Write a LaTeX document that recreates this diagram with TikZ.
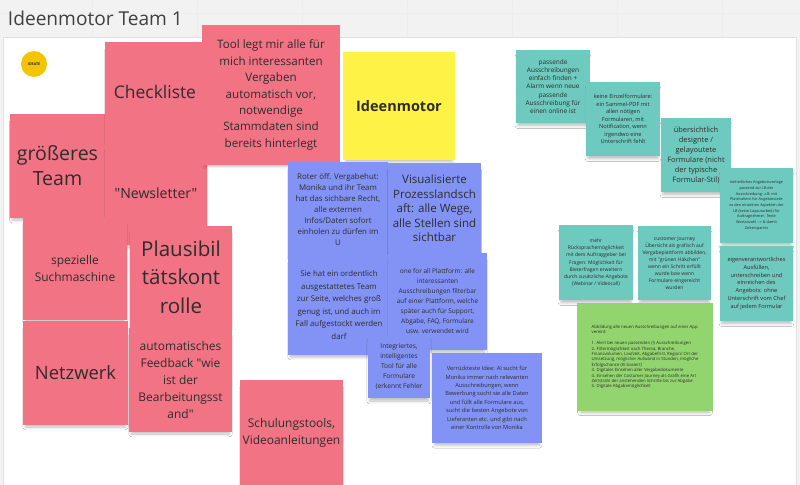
\documentclass[tikz,border=0pt]{standalone}
\usepackage{fontspec}
\setmainfont{Open Sans}[Ligatures=TeXOff]
\usetikzlibrary{shadows.blur}
\definecolor{notepink}{RGB}{242,115,132}
\definecolor{noteblue}{RGB}{130,147,245}
\definecolor{noteteal}{RGB}{110,201,190}
\definecolor{noteyellow}{RGB}{255,242,70}
\definecolor{notegreen}{RGB}{146,212,110}
\definecolor{ideategold}{RGB}{245,196,0}
\definecolor{notetext}{RGB}{45,45,45}
\definecolor{boardgray}{RGB}{242,242,242}
\tikzset{
  note/.style={inner sep=0pt, align=center, text=notetext,
    blur shadow={shadow xshift=0pt, shadow yshift=-3.5pt, shadow scale=0.95, shadow blur radius=2pt, shadow opacity=25}},
  wh/.style 2 args={minimum width=#1*0.025cm, minimum height=#2*0.025cm},
  fnt/.style 2 args={font=\fontsize{#1}{#2}\selectfont},
  pinknote/.style={note, fill=notepink},
  bluenote/.style={note, fill=noteblue},
  tealnote/.style={note, fill=noteteal},
  yellownote/.style={note, fill=noteyellow},
  greennote/.style={note, fill=notegreen}
}
\begin{document}
\begin{tikzpicture}[x=0.025cm, y=-0.025cm]
    \fill[boardgray] (0,0) rectangle (800,485);
    \useasboundingbox (0,0) rectangle (800,485);
    \foreach \gx in {92,197,302,407,512,617,722}
        \draw[black!7, line width=0.4pt] (\gx,0) -- (\gx,37);
    \draw[black!7, line width=0.4pt] (0,13) -- (800,13);
    \draw[black!12, fill=white] (3,37) rectangle (796,486);

    \node[anchor=base west, text=black!75, font=\fontsize{13.6pt}{16pt}\selectfont] (title) at (3,26) {Ideenmotor Team 1};
    \node[circle, fill=ideategold, minimum size=26*0.025cm, inner sep=0pt, font=\fontsize{2.6pt}{3pt}\selectfont\bfseries, text=notetext] (ideate) at (34,64) {IDEATE};

    % pink
    \node[pinknote, wh={95}{104}, fnt={13.9pt}{17.8pt}] (groesseres) at (57.5,166) {größeres\\Team};
    \node[pinknote, wh={100}{100}, fnt={12.4pt}{15pt}] (checkliste) at (155,92) {Checkliste};
    \node[pinknote, wh={102}{103}, fnt={10pt}{12pt}] (newsletter) at (156,193.5) {"Newsletter"};
    \node[pinknote, wh={104}{103}, fnt={8.5pt}{11.7pt}] (suchmaschine) at (75,268.5) {spezielle\\Suchmaschine};
    \node[pinknote, wh={102}{102}, fnt={14.6pt}{20.3pt}] (plausibil) at (181,277) {Plausibil\\tätskont\\rolle};
    \node[pinknote, wh={105}{104}, fnt={13.1pt}{16pt}] (netzwerk) at (75.5,373) {Netzwerk};
    \node[pinknote, wh={103}{104}, fnt={8.5pt}{12.1pt}] (feedback) at (180.5,380) {automatisches\\Feedback "wie\\ist der\\Bearbeitungsst\\and"};
    \node[pinknote, wh={138}{140}, fnt={8.25pt}{11.7pt}] (tool) at (271,95) {Tool legt mir alle für\\mich interessanten\\Vergaben\\automatisch vor,\\notwendige\\Stammdaten sind\\bereits hinterlegt};
    \node[pinknote, wh={103}{105}, fnt={8.5pt}{12pt}] (schulung) at (291.5,432.5) {Schulungstools,\\Videoanleitungen};

    % yellow
    \node[yellownote, wh={112}{108}, fnt={10.3pt}{12pt}] (ideenmotor) at (399,106) {\bfseries Ideenmotor};

    % blue
    \node[bluenote, wh={100}{95}, fnt={5.6pt}{7.8pt}] (vergabehut) at (338,209.5) {Roter öff. Vergabehut:\\Monika und ihr Team\\hat das sichbare Recht,\\alle externen\\Infos/Daten sofort\\einholen zu dürfen im\\U};
    \node[bluenote, wh={93}{91}, fnt={8.2pt}{10.3pt}] (prozess) at (434.5,208.5) {Visualisierte\\Prozesslandsch\\aft: alle Wege,\\alle Stellen sind\\sichtbar};
    \node[bluenote, wh={102}{100}, fnt={5.6pt}{8.9pt}] (team) at (339,305) {Sie hat ein ordentlich\\ausgestattetes Team\\zur Seite, welches groß\\genug ist, und auch im\\Fall aufgestockt werden\\darf};
    \node[bluenote, wh={99}{97}, fnt={4.6pt}{7.1pt}] (plattform) at (437.5,301.5) {one for all Plattform: alle\\interessanten\\Ausschreibungen filterbar\\auf einer Plattform, welche\\später auch für Support,\\Abgabe, FAQ, Formulare\\usw. verwendet wird};
    \node[bluenote, wh={62}{63}, fnt={4.7pt}{7.1pt}] (formulartool) at (399,366.5) {Integriertes,\\intelligentes\\Tool für alle\\Formulare\\(erkennt Fehler};
    \node[bluenote, wh={110}{90}, fnt={4.05pt}{6pt}] (aiidee) at (487,398) {Verrückteste Idee: AI sucht für\\Monika immer nach relevanten\\Ausschreibungen, wenn\\Bewerbung sucht sie alle Daten\\und füllt alle Formulare aus,\\sucht die besten Angebote von\\Lieferanten etc. und gibt nach\\einer Kontrolle von Monika};

    % teal
    \node[tealnote, wh={74}{73}, fnt={4.6pt}{5.9pt}] (finden) at (553,86.5) {passende\\Ausschreibungen\\einfach finden +\\Alarm wenn neue\\passende\\Ausschreibung für\\einen online ist};
    \node[tealnote, wh={74}{74}, fnt={4pt}{5.3pt}] (sammelpdf) at (623,119) {keine Einzelformulare:\\ein Sammel-PDF mit\\allen nötigen\\Formularen, mit\\Notification, wenn\\irgendwo eine\\Unterschrift fehlt};
    \node[tealnote, wh={70}{74}, fnt={5.3pt}{7.1pt}] (design) at (696,155) {übersichtlich\\designte /\\gelayoutete\\Formulare (nicht\\der typische\\Formular-Stil)};
    \node[tealnote, wh={73}{75}, fnt={2.7pt}{4.05pt}] (vorlage) at (756.5,205.5) {einheitliches Angebotsvorlage\\passend zur LB der\\Ausschreibung: z.B. mit\\Platzhaltern für Angebotsteile\\zu den einzelnen Aspekten der\\LB (keine Layoutarbeit) für\\Auftragnehmer. Texte\\Wortanzahl --> \& damit\\Zeitersparnis};
    \node[tealnote, wh={73}{75}, fnt={4pt}{5.5pt}] (eigen) at (756.5,283.5) {eigenverantwortliches\\Ausfüllen,\\unterschreiben und\\einreichen des\\Angebots: ohne\\Unterschrift vom Chef\\auf jedem Formular};
    \node[tealnote, wh={74}{75}, fnt={3.55pt}{5pt}] (ruecksprache) at (596,262.5) {mehr\\Rücksprachemöglichkeit\\mit dem Auftraggeber bei\\Fragen: Möglichkeit für\\Bieterfragen erweitern\\durch zusätzliche Angebote\\(Webinar / Videocall)};
    \node[tealnote, wh={73}{74}, fnt={3.55pt}{5pt}] (journey) at (674.5,263) {customer Journey\\Übersicht als grafisch auf\\Vergabeplattform abbilden,\\mit "grünen Häkchen"\\wenn ein Schritt erfüllt\\wurde bzw wenn\\Formulare eingereicht\\wurden};

    % green
    \node[greennote, wh={136}{108}, fnt={3.05pt}{3.85pt}, align=left] (app) at (645,357) {Abbildung alle neuen Ausschreibungen auf einer App\\vereint:\\[3.85pt]1. Alert bei neuen passenden (!) Ausschreibungen\\2. Filtermöglichkeit nach Thema, Branche,\\Finanzvolumen, Laufzeit, Abgabefrist, Region/ Ort der\\Umsetzung, möglicher Aufwand in Stunden, mögliche\\Erfolgschance (KI basiert)\\3. Digitales Einsehen aller Vergabedokumente\\4. Einsehen der Costumer Journey als Grafik eine Art\\Zeitstrahl der anstehenden Schritte bis zur Abgabe\\5. Digitale Abgabemöglichkeit};
\end{tikzpicture}
\end{document}
